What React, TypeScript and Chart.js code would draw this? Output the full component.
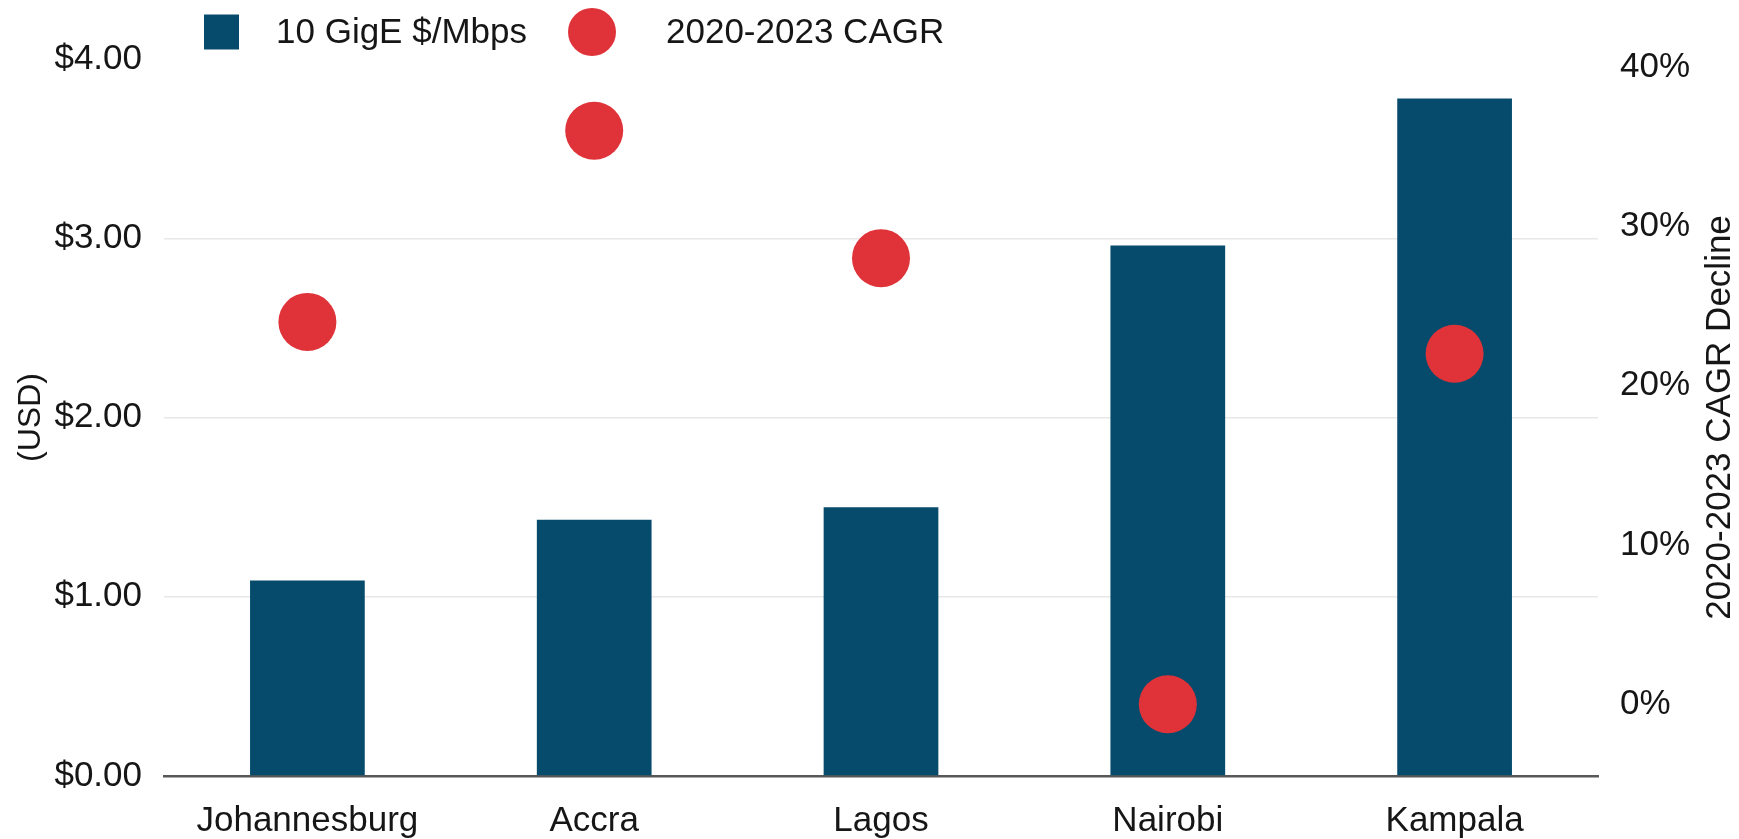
import { useEffect, useRef } from "react";
import { Chart, registerables } from "chart.js";

Chart.register(...registerables);

// Cities along the x axis
const cities = ["Johannesburg", "Accra", "Lagos", "Nairobi", "Kampala"];
// 10 GigE transit price, USD per Mbps
const pricePerMbps = [1.09, 1.43, 1.5, 2.96, 3.78];
// 2020-2023 CAGR decline, percent
const cagrDecline = [24, 36, 28, 0, 22];
// Tick values for both value axes
const usdTicks = [0, 1, 2, 3, 4];
const pctTicks = [0, 10, 20, 30, 40];

const priceLabel = "10 GigE $/Mbps";
const cagrLabel = "2020-2023 CAGR";
const usdTitle = "(USD)";
const pctTitle = "2020-2023 CAGR Decline";

const NAVY = "#074b6c";
const RED = "#df3339";
const INK = "#161616";
const GRID = "#e8e8e8";
const AXIS = "#585858";
const FONT = "'Liberation Sans', Arial, Helvetica, sans-serif";

// Legend row across the top plus the upright title of the right-hand axis
const decorations = {
  id: "decorations",
  afterDraw(chart: any) {
    const { ctx, chartArea } = chart;
    ctx.save();
    ctx.font = `35px ${FONT}`;
    ctx.textBaseline = "middle";
    ctx.textAlign = "left";

    const rowY = 32;
    const x0 = chartArea.left + 40;
    ctx.fillStyle = NAVY;
    ctx.fillRect(x0, rowY - 17.5, 35, 35);
    ctx.fillStyle = INK;
    ctx.fillText(priceLabel, x0 + 72, rowY + 1);

    const cx = x0 + 388;
    ctx.fillStyle = RED;
    ctx.beginPath();
    ctx.arc(cx, rowY, 24, 0, Math.PI * 2);
    ctx.fill();
    ctx.fillStyle = INK;
    ctx.fillText(cagrLabel, cx + 74, rowY + 1);

    // right axis title, reading bottom to top
    ctx.translate(chart.width - 19, (chartArea.top + chartArea.bottom) / 2);
    ctx.rotate(-Math.PI / 2);
    ctx.textAlign = "center";
    ctx.fillText(pctTitle, 0, 0);
    ctx.restore();
  },
};

export default function App() {
  const canvasRef = useRef<HTMLCanvasElement | null>(null);

  useEffect(() => {
    if (!canvasRef.current) return;
    const chart = new Chart(canvasRef.current, {
      type: "bar",
      data: {
        labels: cities,
        datasets: [
          {
            type: "line",
            label: cagrLabel,
            data: cagrDecline,
            yAxisID: "y1",
            showLine: false,
            pointRadius: 29,
            pointHoverRadius: 29,
            pointBackgroundColor: RED,
            pointBorderWidth: 0,
            borderColor: RED,
            backgroundColor: RED,
            order: 0,
          },
          {
            type: "bar",
            label: priceLabel,
            data: pricePerMbps,
            yAxisID: "y",
            backgroundColor: NAVY,
            barPercentage: 0.4,
            categoryPercentage: 1,
            order: 1,
          },
        ],
      },
      options: {
        animation: false,
        responsive: true,
        maintainAspectRatio: false,
        layout: { padding: { top: 59, left: 0, right: 0, bottom: 0 } },
        plugins: {
          legend: { display: false },
          tooltip: { enabled: false },
        },
        scales: {
          x: {
            grid: { display: false },
            border: { display: true, color: AXIS, width: 2.5 },
            ticks: {
              color: INK,
              font: { family: FONT, size: 35 },
              padding: 16,
              maxRotation: 0,
              autoSkip: false,
            },
            afterFit: (s: any) => {
              s.height = 63;
            },
          },
          y: {
            position: "left",
            min: 0,
            max: 4,
            afterBuildTicks: (s: any) => {
              s.ticks = usdTicks.map((v) => ({ value: v }));
            },
            grid: {
              drawTicks: false,
              lineWidth: 1.5,
              color: (c: any) =>
                c.tick && (c.tick.value === 0 || c.tick.value === 4) ? "rgba(0,0,0,0)" : GRID,
            },
            border: { display: false },
            ticks: {
              color: INK,
              font: { family: FONT, size: 35 },
              padding: 22,
              callback: (v: any) => "$" + Number(v).toFixed(2),
            },
            title: {
              display: true,
              text: usdTitle,
              color: INK,
              font: { family: FONT, size: 32 },
              padding: { top: 12, bottom: 0 },
            },
            afterFit: (s: any) => {
              s.width = 164;
            },
          },
          y1: {
            position: "right",
            min: -4.5,
            max: 40.5,
            afterBuildTicks: (s: any) => {
              s.ticks = pctTicks.map((v) => ({ value: v }));
            },
            grid: { display: false, drawTicks: false },
            border: { display: false },
            ticks: {
              color: INK,
              font: { family: FONT, size: 35 },
              padding: 22,
              callback: (v: any) => v + "%",
            },
            afterFit: (s: any) => {
              s.width = 141;
            },
          },
        },
      },
      plugins: [decorations],
    });
    return () => chart.destroy();
  }, []);

  return (
    <div style={{ position: "fixed", left: 0, top: 0, width: "100vw", height: "100vh", background: "#fff" }}>
      <canvas ref={canvasRef} />
    </div>
  );
}
